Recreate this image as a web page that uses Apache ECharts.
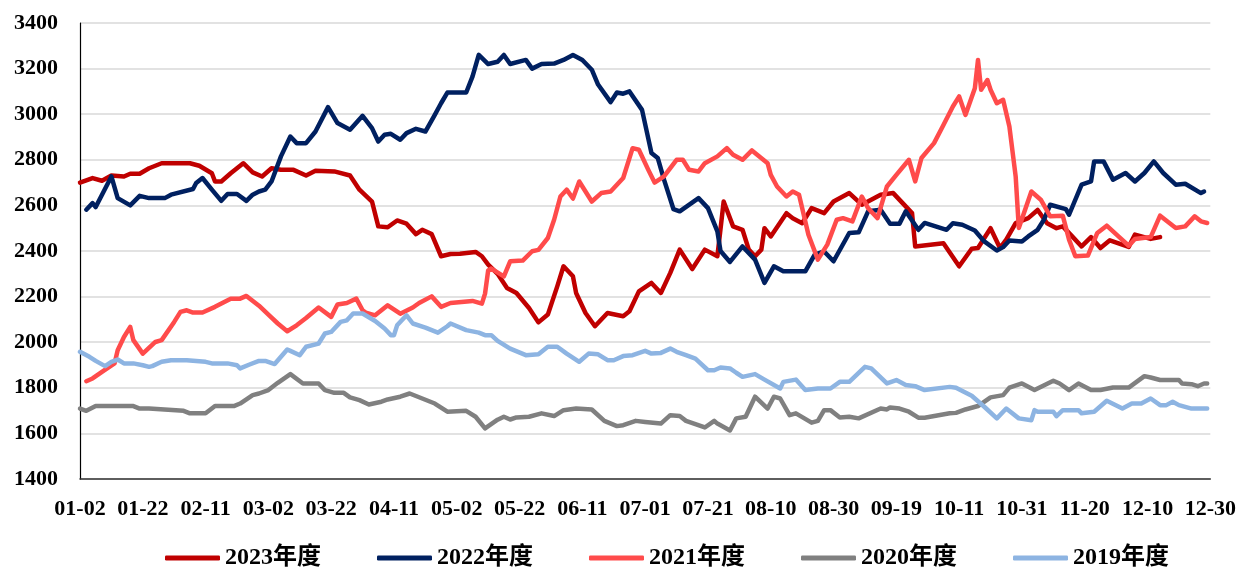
<!DOCTYPE html>
<html>
<head>
<meta charset="utf-8">
<script src="https://cdn.jsdelivr.net/npm/echarts@6/dist/echarts.min.js"></script>
<style>
  html, body { margin: 0; padding: 0; background: #fff; }
  #main { width: 1239px; height: 570px; }
</style>
</head>
<body>
<div id="main"></div>
<script>
// tick labels, one every 20 days on the x axis
var tickLabels = ['01-02','01-22','02-11','03-02','03-22','04-11','05-02','05-22','06-11','07-01',
                  '07-21','08-10','08-30','09-19','10-11','10-31','11-20','12-10','12-30'];
var names = ['2023年度','2022年度','2021年度','2020年度','2019年度'];
var colors = ['#C00000','#002060','#FF4B4B','#808080','#8DB4E2'];

// [day index, value]
var y2023 = [[0,2700],[4,2720],[7,2708],[10,2731],[14,2727],[16,2739],[19,2739],[22,2763],[26,2785],[35,2785],
  [38,2774],[42,2741],[43,2705],[45,2705],[48,2741],[52,2785],[55,2745],[58,2727],[61,2763],[64,2756],
  [68,2756],[72,2731],[75,2752],[81,2749],[86,2731],[89,2669],[93,2617],[95,2508],[98,2504],[101,2534],
  [104,2520],[107,2474],[109,2493],[112,2474],[115,2377],[118,2387],[121,2388],[126,2396],[128,2377],[130,2340],
  [133,2300],[136,2238],[139,2216],[143,2150],[146,2087],[149,2121],[152,2245],[154,2333],[157,2289],[158,2216],
  [161,2128],[164,2070],[168,2128],[173,2114],[175,2136],[178,2223],[182,2260],[185,2216],[188,2304],[191,2406],
  [195,2321],[199,2406],[203,2377],[205,2617],[208,2508],[211,2493],[213,2406],[215,2377],[217,2406],[218,2500],
  [220,2464],[225,2566],[227,2544],[230,2522],[233,2588],[237,2566],[240,2617],[245,2654],[249,2603],[252,2625],
  [255,2647],[259,2654],[262,2610],[265,2566],[266,2420],[275,2434],[280,2333],[284,2410],[286,2413],[290,2500],
  [293,2413],[295,2450],[298,2522],[302,2544],[305,2580],[308,2522],[311,2500],[313,2508],[316,2464],[319,2420],
  [322,2461],[325,2413],[328,2447],[334,2418],[336,2472],[341,2453],[344,2461]];

var y2022 = [[2,2581],[4,2610],[5,2593],[10,2727],[12,2632],[16,2600],[19,2642],[22,2632],[27,2632],[29,2647],
  [36,2672],[37,2698],[39,2720],[42,2669],[45,2620],[47,2650],[50,2650],[53,2620],[55,2647],[57,2661],
  [59,2669],[61,2705],[64,2815],[67,2902],[69,2873],[72,2873],[75,2924],[79,3031],[82,2961],[86,2932],
  [90,2993],[93,2939],[95,2880],[97,2910],[99,2914],[102,2888],[104,2917],[107,2936],[110,2924],[113,2997],
  [115,3048],[117,3095],[123,3095],[125,3165],[127,3260],[130,3220],[133,3230],[135,3260],[137,3220],[142,3238],
  [144,3200],[147,3220],[151,3222],[154,3238],[157,3260],[160,3238],[163,3195],[165,3130],[169,3053],[171,3095],
  [173,3090],[175,3100],[179,3019],[182,2830],[184,2808],[186,2713],[189,2584],[191,2574],[197,2632],[200,2588],
  [203,2486],[204,2400],[207,2352],[211,2420],[215,2362],[218,2260],[221,2333],[224,2311],[231,2311],[234,2384],
  [237,2398],[240,2355],[245,2479],[248,2482],[251,2574],[255,2581],[258,2520],[261,2520],[263,2574],[267,2493],
  [269,2523],[276,2493],[278,2522],[281,2515],[285,2490],[288,2442],[292,2402],[294,2417],[296,2446],[300,2442],
  [302,2464],[305,2493],[307,2537],[309,2603],[314,2584],[315,2559],[319,2691],[322,2705],[323,2793],[326,2793],
  [329,2713],[333,2742],[336,2705],[339,2742],[342,2793],[345,2742],[349,2691],[352,2695],[357,2654],[358,2661]];

var y2021 = [[2,1829],[4,1841],[7,1870],[11,1907],[12,1965],[14,2023],[16,2067],[17,2009],[20,1950],[24,2001],
  [26,2009],[30,2089],[32,2133],[34,2140],[36,2130],[39,2130],[43,2155],[48,2191],[51,2191],[53,2203],
  [57,2160],[60,2121],[63,2082],[66,2048],[69,2074],[72,2106],[76,2152],[80,2111],[82,2165],[85,2172],
  [88,2191],[90,2140],[91,2130],[94,2118],[98,2162],[102,2125],[106,2152],[108,2172],[112,2201],[115,2155],
  [118,2172],[125,2181],[128,2169],[129,2213],[130,2315],[131,2323],[135,2289],[137,2355],[141,2358],[144,2399],
  [146,2405],[149,2457],[151,2537],[153,2639],[155,2669],[157,2630],[159,2705],[163,2617],[166,2654],[169,2661],
  [173,2720],[176,2851],[178,2844],[181,2756],[183,2700],[186,2727],[190,2800],[192,2800],[194,2756],[197,2749],
  [199,2785],[203,2815],[206,2851],[208,2822],[211,2800],[214,2841],[219,2785],[220,2734],[222,2683],[225,2639],
  [227,2661],[229,2647],[232,2471],[235,2362],[238,2428],[241,2537],[243,2544],[246,2530],[249,2639],[251,2588],
  [254,2544],[257,2683],[260,2734],[264,2800],[266,2705],[268,2808],[272,2873],[275,2953],[278,3034],[280,3078],
  [282,2997],[285,3114],[286,3238],[287,3107],[289,3150],[290,3107],[292,3048],[294,3063],[296,2946],[298,2727],
  [299,2501],[303,2661],[306,2625],[309,2552],[313,2555],[315,2450],[317,2377],[321,2380],[324,2479],[327,2511],
  [331,2461],[334,2423],[336,2453],[341,2461],[344,2555],[349,2501],[352,2508],[355,2552],[357,2530],[359,2523]];

var y2020 = [[0,1709],[2,1699],[5,1720],[17,1720],[19,1709],[22,1709],[33,1699],[35,1688],[40,1688],[43,1720],
  [49,1720],[51,1731],[55,1768],[57,1775],[60,1790],[63,1822],[67,1860],[71,1819],[76,1819],[78,1790],
  [81,1778],[84,1778],[86,1758],[89,1746],[92,1727],[96,1739],[98,1749],[102,1761],[105,1775],[109,1753],
  [113,1731],[117,1695],[123,1699],[126,1673],[129,1622],[133,1660],[135,1673],[137,1661],[139,1670],[143,1673],
  [147,1688],[151,1676],[154,1702],[158,1709],[163,1705],[167,1655],[171,1632],[173,1636],[177,1655],[180,1650],
  [185,1643],[188,1680],[191,1676],[193,1655],[199,1626],[202,1655],[203,1643],[207,1613],[209,1666],[212,1673],
  [215,1761],[219,1709],[221,1761],[223,1753],[226,1680],[228,1688],[233,1647],[235,1655],[237,1702],[239,1702],
  [242,1670],[245,1673],[248,1666],[255,1709],[257,1705],[258,1714],[261,1709],[264,1695],[267,1669],[269,1669],
  [277,1688],[279,1690],[282,1705],[286,1720],[290,1758],[294,1768],[296,1801],[300,1819],[304,1790],[310,1831],
  [312,1819],[315,1790],[318,1819],[322,1790],[325,1790],[329,1801],[334,1801],[339,1851],[341,1845],[344,1834],
  [350,1834],[351,1819],[354,1816],[356,1807],[358,1819],[359,1819]];

var y2019 = [[0,1958],[3,1936],[5,1918],[8,1895],[10,1914],[12,1924],[14,1907],[17,1907],[20,1899],[22,1892],
  [23,1895],[26,1914],[29,1921],[34,1921],[40,1914],[42,1907],[47,1907],[50,1899],[51,1885],[54,1902],
  [57,1918],[59,1918],[62,1904],[66,1968],[67,1962],[70,1943],[72,1980],[76,1994],[78,2038],[80,2045],
  [83,2089],[85,2096],[87,2126],[90,2126],[94,2093],[97,2060],[99,2031],[100,2031],[101,2074],[104,2118],
  [106,2082],[110,2064],[114,2042],[117,2070],[118,2082],[123,2053],[127,2042],[129,2031],[131,2031],[133,2006],
  [137,1972],[142,1943],[146,1947],[149,1980],[152,1980],[155,1950],[159,1914],[162,1950],[165,1947],[168,1921],
  [170,1921],[173,1939],[176,1943],[180,1962],[182,1950],[185,1953],[188,1972],[190,1958],[193,1943],[196,1928],
  [200,1877],[202,1877],[204,1889],[207,1885],[209,1866],[211,1848],[215,1860],[218,1836],[223,1797],[224,1826],
  [228,1836],[231,1790],[235,1797],[239,1797],[242,1826],[245,1826],[250,1892],[252,1885],[257,1819],[260,1834],
  [263,1812],[266,1807],[269,1790],[277,1804],[279,1800],[284,1765],[288,1717],[292,1666],[295,1709],[299,1666],
  [303,1658],[304,1702],[305,1695],[310,1695],[311,1676],[313,1702],[318,1702],[319,1688],[323,1695],[327,1743],
  [332,1709],[335,1731],[338,1731],[341,1753],[344,1724],[346,1724],[348,1739],[350,1724],[354,1709],[359,1709]];

var seriesData = [y2023, y2022, y2021, y2020, y2019];

var dom = document.getElementById("main");
var myChart = echarts.init(dom);
var serifFont = "'Times New Roman', 'Liberation Serif', serif";

var option = {
    animation: false,
    color: colors,
    grid: {
        left: 80,
        right: 23,
        top: 23,
        bottom: 91
    },
    legend: {
        left: 165,
        top: 546,
        padding: 0,
        icon: 'roundRect',
        itemWidth: 55,
        itemHeight: 5,
        itemGap: 56,
        data: names,
        textStyle: {
            fontSize: 24,
            fontWeight: 'bold',
            color: '#000',
            fontFamily: "'Times New Roman', 'Liberation Serif', 'Noto Sans CJK SC', serif"
        }
    },
    xAxis: {
        type: 'value',
        min: 0,
        max: 360,
        interval: 20,
        axisTick: { show: false },
        splitLine: { show: false },
        axisLine: { lineStyle: { color: '#333', width: 1.5 } },
        axisLabel: {
            margin: 19,
            fontSize: 22,
            fontWeight: 'bold',
            color: '#000',
            fontFamily: serifFont,
            formatter: function (v) { return tickLabels[Math.round(v / 20)]; }
        }
    },
    yAxis: {
        type: 'value',
        min: 1400,
        max: 3400,
        interval: 200,
        axisTick: { show: false },
        axisLine: { show: true, lineStyle: { color: '#000', width: 1.2 } },
        splitLine: { lineStyle: { color: '#D9D9D9', width: 1.5 } },
        axisLabel: {
            margin: 22,
            fontSize: 22,
            fontWeight: 'bold',
            color: '#000',
            fontFamily: serifFont,
            formatter: function (v) { return String(v); }
        }
    },
    series: names.map(function (n, i) {
        return {
            name: n,
            type: 'line',
            data: seriesData[i],
            symbol: 'none',
            lineStyle: { width: 4.5, color: colors[i], cap: 'round', join: 'round' }
        };
    })
};

if (option && typeof option === "object") {
    myChart.setOption(option, true);
}
</script>
</body>
</html>
